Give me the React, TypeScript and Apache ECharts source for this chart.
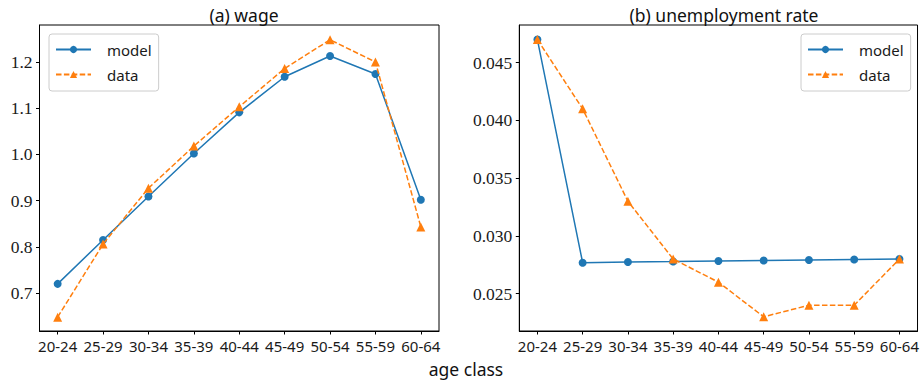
import React, { useEffect, useRef } from "react";
import * as echarts from "echarts";

const categories = ["20-24", "25-29", "30-34", "35-39", "40-44", "45-49", "50-54", "55-59", "60-64"];
const wageModel = [0.72, 0.815, 0.909, 1.002, 1.091, 1.168, 1.213, 1.174, 0.902];
const wageData = [0.648, 0.806, 0.927, 1.018, 1.103, 1.186, 1.248, 1.2, 0.843];
const unempModel = [0.047, 0.02768, 0.02774, 0.02778, 0.02783, 0.02787, 0.02792, 0.02796, 0.028];
const unempData = [0.047, 0.041, 0.033, 0.028, 0.026, 0.023, 0.024, 0.024, 0.028];
const wageTicks = [0.7, 0.8, 0.9, 1.0, 1.1, 1.2];
const unempTicks = [0.025, 0.03, 0.035, 0.04, 0.045];
const xTicks = categories.map((_, i) => i);

const BLUE = "#1f77b4";
const ORANGE = "#ff7f0e";
const SANS = "Noto Sans";
const SERIF = "Liberation Serif";

const toPairs = (arr: number[]) => arr.map((v, i) => [i, v]);

export default function App() {
  const ref = useRef<HTMLDivElement>(null);
  useEffect(() => {
    if (!ref.current) return;
    const chart = echarts.init(ref.current, undefined, { renderer: "svg" });
    const xAxisBase = (gridIndex: number) => ({
      type: "value" as const,
      gridIndex,
      min: -0.4,
      max: 8.4,
      splitLine: { show: false },
      axisLine: { show: true, onZero: false, lineStyle: { color: "#000", width: 1 } },
      axisTick: { show: true, length: 3.5, inside: false, customValues: xTicks, lineStyle: { color: "#000", width: 1 } },
      axisLabel: {
        customValues: xTicks,
        margin: 7,
        color: "#1a1a1a",
        fontFamily: SANS,
        fontSize: 15,
        formatter: (v: number) => categories[Math.round(v)] ?? "",
      },
    });
    const yAxisBase = (gridIndex: number, min: number, max: number, ticks: number[], digits: number) => ({
      type: "value" as const,
      gridIndex,
      min,
      max,
      splitLine: { show: false },
      axisLine: { show: true, onZero: false, lineStyle: { color: "#000", width: 1 } },
      axisTick: { show: true, length: 3.5, inside: false, customValues: ticks, lineStyle: { color: "#000", width: 1 } },
      axisLabel: {
        customValues: ticks,
        margin: 7,
        color: "#1a1a1a",
        fontFamily: SERIF,
        fontSize: 17.5,
        formatter: (v: number) => v.toFixed(digits),
      },
    });
    const legendBase = {
      orient: "vertical" as const,
      top: 34,
      padding: [8, 7, 9, 6],
      itemGap: 10,
      itemWidth: 35,
      itemHeight: 9,
      backgroundColor: "rgba(255,255,255,0.8)",
      borderColor: "#cccccc",
      borderWidth: 1,
      borderRadius: 3,
      textStyle: { fontFamily: SANS, fontSize: 15, color: "#1a1a1a", padding: [0, 0, 0, 11] },
      data: ["model", "data"],
    };
    const modelSeries = (xi: number, data: number[]) => ({
      name: "model",
      type: "line" as const,
      xAxisIndex: xi,
      yAxisIndex: xi,
      data: toPairs(data),
      symbol: "circle",
      symbolSize: 8,
      color: BLUE,
      lineStyle: { color: BLUE, width: 1.5 },
      itemStyle: { color: BLUE },
      z: 2,
    });
    const dataSeries = (xi: number, data: number[]) => ({
      name: "data",
      type: "line" as const,
      xAxisIndex: xi,
      yAxisIndex: xi,
      data: toPairs(data),
      symbol: "triangle",
      symbolSize: 9,
      color: ORANGE,
      lineStyle: { color: ORANGE, width: 1.5, type: [5.5, 2.4] },
      itemStyle: { color: ORANGE },
      z: 3,
    });
    const titleStyle = { fontFamily: SANS, fontSize: 17.5, fontWeight: "normal" as const, color: "#111" };
    chart.setOption({
      animation: false,
      backgroundColor: "#fff",
      title: [
        { text: "(a) wage", left: 239, top: 1, textAlign: "center", textStyle: titleStyle },
        { text: "(b) unemployment rate", left: 719, top: 1, textAlign: "center", textStyle: titleStyle },
        { text: "age class", left: 461, top: 355, textAlign: "center", textStyle: titleStyle },
      ],
      grid: [
        { left: 39.5, top: 25, width: 399.5, height: 306, show: true, borderColor: "#000", borderWidth: 1, backgroundColor: "transparent" },
        { left: 519.3, top: 25, width: 399, height: 306, show: true, borderColor: "#000", borderWidth: 1, backgroundColor: "transparent" },
      ],
      xAxis: [xAxisBase(0), xAxisBase(1)],
      yAxis: [
        yAxisBase(0, 0.618, 1.28, wageTicks, 1),
        yAxisBase(1, 0.02177, 0.04826, unempTicks, 3),
      ],
      legend: [
        { ...legendBase, left: 49 },
        { ...legendBase, left: 801 },
      ],
      series: [
        modelSeries(0, wageModel),
        dataSeries(0, wageData),
        modelSeries(1, unempModel),
        dataSeries(1, unempData),
      ],
    });
    return () => chart.dispose();
  }, []);
  return (
    <div style={{ position: "fixed", left: 0, top: 0, width: 922, height: 383, background: "#fff" }}>
      <div ref={ref} style={{ width: 922, height: 383 }} />
    </div>
  );
}
